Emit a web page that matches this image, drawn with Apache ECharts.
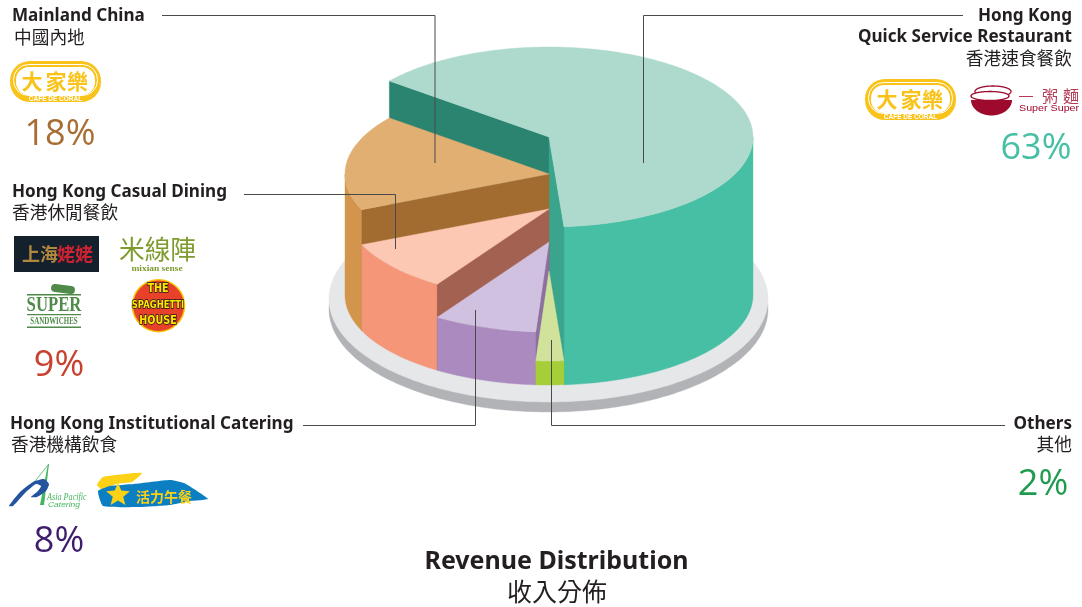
<!DOCTYPE html>
<html>
<head>
<meta charset="utf-8">
<title>Revenue Distribution</title>
<script src="https://cdn.jsdelivr.net/npm/echarts@6/dist/echarts.min.js"></script>
<style>
  html, body { margin: 0; padding: 0; background: #fff; }
  #main { width: 1082px; height: 607px; }
</style>
</head>
<body>
<div id="main"></div>
<script>
// 数据
var namesEn = ['Hong Kong Quick Service Restaurant', 'Mainland China', 'Hong Kong Casual Dining', 'Hong Kong Institutional Catering', 'Others'];
var namesZh = ['香港速食餐飲', '中國內地', '香港休閒餐飲', '香港機構飲食', '其他'];
var shareLabels = ['63%', '18%', '9%', '8%', '2%'];
// slice sizes as measured on the drawn wedges (the printed labels are rounded differently)
var sliceShares = [63.2, 17.2, 9.3, 8.2, 2.2];
// how far each wedge top is stepped down below the highest one
var stepDown = [0, 37, 72, 105, 134];

// pie geometry
var CX = 549, CY = 137, RX = 204, RY = 90, DEPTH = 158;
var FIRST_END = 85.8; // angle where the first slice ends, clockwise from 3 o'clock

var topColors = ['#addacc', '#e2af72', '#fcc8b4', '#cfc1df', '#d1e39b'];
var wallColors = ['#46bfa4', '#d3954b', '#f69679', '#ab8abf', '#a6ce39'];
var cutColors = ['#2a8470', '#a26b2f', '#a36151', '#8b70a0', '#a6ce39'];
var TEAL_CUT_END = '#3ba48d';

function rimPoint(deg, y0) {
    var a = deg * Math.PI / 180;
    return [CX + RX * Math.cos(a), y0 + RY * Math.sin(a)];
}

function arcPoints(from, to, y0) {
    var pts = [];
    var n = Math.max(2, Math.ceil(Math.abs(to - from)));
    for (var i = 0; i <= n; i++) {
        pts.push(rimPoint(from + (to - from) * i / n, y0));
    }
    return pts;
}

function poly(points, fill, z2) {
    return { type: 'polygon', z2: z2 || 0, shape: { points: points }, style: { fill: fill, stroke: fill, lineWidth: 0.4 } };
}

function ellipsePoints(cx, cy, rx, ry) {
    var pts = [];
    for (var i = 0; i < 240; i++) {
        var a = i * Math.PI / 120;
        pts.push([cx + rx * Math.cos(a), cy + ry * Math.sin(a)]);
    }
    return pts;
}

function sliceRange(idx) {
    var total = sliceShares.reduce(function (a, b) { return a + b; }, 0);
    var end = FIRST_END;
    for (var i = 0; i < idx; i++) {
        end -= sliceShares[i] / total * 360;
    }
    // slices after the first run on round the left of the pie
    if (idx > 0) end += 360;
    return [end - sliceShares[idx] / total * 360, end];
}

function cutWall(deg, yTop, yBase, color) {
    var r = rimPoint(deg, yTop), b = rimPoint(deg, yBase);
    return poly([[CX, yTop], r, b, [CX, yBase]], color);
}

function renderSlice(params, api) {
    var idx = params.dataIndex;
    var range = sliceRange(idx);
    var start = range[0], end = range[1];
    var yTop = CY + stepDown[idx];
    var yBase = CY + DEPTH;
    var children = [];

    // outer wall, only the part facing the front
    var from = Math.max(start, 0), to = Math.min(end, 180);
    if (to > from) {
        var upper = arcPoints(from, to, yTop);
        var lower = arcPoints(to, from, yBase);
        children.push(poly(upper.concat(lower), wallColors[idx]));
    }
    // cut faces
    if (idx < 4) children.push(cutWall(start, yTop, yBase, cutColors[idx]));
    if (idx === 0) children.push(cutWall(end, yTop, yBase, TEAL_CUT_END));
    // top face
    var topPts = arcPoints(start, end, yTop);
    topPts.push([CX, yTop]);
    children.push(poly(topPts, topColors[idx]));

    return { type: 'group', children: children };
}

function renderDisc() {
    return {
        type: 'group',
        children: [
            poly(ellipsePoints(548.5, 309, 219.5, 103), '#b1b3b6'),
            poly(ellipsePoints(548.5, 299, 219.5, 103), '#e6e7e8')
        ]
    };
}

// text helper
var FONT_EN = '"Noto Sans", "Open Sans", sans-serif';
var FONT_ZH = '"Noto Sans CJK TC", sans-serif';
var LABEL_EN = 17.1, LABEL_ZH = 17.7;

function txt(str, x, y, size, opt) {
    opt = opt || {};
    var el = {
        type: 'text',
        z: 100,
        x: x,
        y: y,
        rotation: opt.rotation || 0,
        scaleX: opt.scaleX || 1,
        style: {
            text: str,
            x: 0,
            y: 0,
            fill: opt.fill || '#231f20',
            font: (opt.style ? opt.style + ' ' : '') + (opt.weight || 'normal') + ' ' + size + 'px ' + (opt.family || FONT_EN),
            textAlign: opt.align || 'left',
            textVerticalAlign: 'middle',
            align: opt.align || 'left',
            verticalAlign: 'middle'
        }
    };
    if (opt.stroke) {
        el.style.stroke = opt.stroke;
        el.style.lineWidth = opt.lineWidth || 1;
    }
    return el;
}

function shape(type, sh, style, extra) {
    var el = { type: type, z: 100, shape: sh, style: style };
    if (extra) for (var k in extra) el[k] = extra[k];
    return el;
}

function leader(points) {
    return shape('polyline', { points: points }, { fill: 'none', stroke: '#4a4a4a', lineWidth: 1 });
}

// ---- logos, roughly redrawn ----
function cafeLogo(x, y) {
    var yellow = '#f9c31a';
    var opt = { family: FONT_ZH, weight: 'bold', fill: yellow, align: 'center' };
    return [
        shape('rect', { x: x, y: y, width: 91, height: 41, r: 20 }, { fill: yellow }),
        shape('rect', { x: x + 3.5, y: y + 3.5, width: 84, height: 31, r: 15 }, { fill: yellow, stroke: '#fff', lineWidth: 1 }),
        shape('rect', { x: x + 6, y: y + 6, width: 79, height: 28, r: 13 }, { fill: '#fff' }),
        txt('大', x + 22, y + 20.5, 21, opt),
        txt('家', x + 46, y + 20.5, 21, opt),
        txt('樂', x + 67.5, y + 20.5, 21, opt),
        txt('CAFÉ DE CORAL', x + 45.5, y + 38, 6.5, { family: '"Liberation Sans"', fill: '#fff', align: 'center', weight: 'bold' })
    ];
}

function superSuperLogo() {
    var red = '#9d0a2e';
    var bowl = [];
    for (var i = 0; i <= 40; i++) {
        var a = i * Math.PI / 40;
        bowl.push([991.5 + 20.5 * Math.cos(a), 100 + 15.5 * Math.sin(a)]);
    }
    return [
        shape('polygon', { points: ellipsePoints(993, 91.5, 18, 5.5) }, { fill: '#fff', stroke: red, lineWidth: 1.3 }),
        shape('polygon', { points: ellipsePoints(990, 96, 19, 4.5) }, { fill: '#fff', stroke: red, lineWidth: 1.3 }),
        shape('polygon', { points: bowl }, { fill: red }),
        shape('line', { x1: 1019, y1: 96.5, x2: 1033, y2: 96.5 }, { stroke: '#b23a55', lineWidth: 1 }),
        txt('粥', 1050, 96, 16, { family: FONT_ZH, fill: '#b23a55', align: 'center' }),
        txt('麵', 1071, 96, 16, { family: FONT_ZH, fill: '#b23a55', align: 'center' }),
        txt('Super Super', 1019, 109, 8.5, { family: '"Liberation Sans"', fill: '#9d0a2e', scaleX: 1.26 })
    ];
}

function shanghaiLogo() {
    return [
        shape('rect', { x: 14, y: 236, width: 85, height: 36 }, { fill: '#14202b' }),
        txt('上海', 22, 254.5, 18, { family: FONT_ZH, fill: '#b08840', weight: 'bold' }),
        txt('姥姥', 57, 254.5, 18, { family: FONT_ZH, fill: '#cc2232', weight: 'bold' })
    ];
}

function mixianLogo() {
    var g = '#7e9b2e';
    return [
        txt('米線陣', 119, 249, 25.7, { family: '"Noto Sans CJK SC"', fill: g }),
        txt('mixian sense', 157, 268.5, 9, { family: '"Liberation Serif"', fill: g, align: 'center', weight: 'bold', scaleX: 1.05 })
    ];
}

function sandwichLogo() {
    var g = '#4f8a4b';
    return [
        shape('rect', { x: 0, y: 0, width: 24, height: 8, r: 4 }, { fill: g }, { x: 51, y: 285, rotation: -0.12, originX: 12, originY: 4 }),
        shape('rect', { x: 27, y: 294, width: 54, height: 1.5 }, { fill: g }),
        txt('SUPER', 54, 305, 22, { family: '"Liberation Serif"', fill: g, align: 'center', scaleX: 0.76, weight: 'bold' }),
        shape('rect', { x: 27, y: 314, width: 54, height: 1.2 }, { fill: g }),
        txt('SANDWICHES', 54, 321, 10.5, { family: '"Liberation Serif"', fill: g, align: 'center', scaleX: 0.66, weight: 'bold' }),
        shape('rect', { x: 27, y: 326.5, width: 54, height: 1.5 }, { fill: g })
    ];
}

function spaghettiLogo() {
    var y = '#ffe600';
    var font = { family: '"DejaVu Sans"', weight: 'bold', fill: y, align: 'center', stroke: '#1a1a1a', lineWidth: 1.5, scaleX: 0.8 };
    return [
        shape('circle', { cx: 158.5, cy: 305.7, r: 26 }, { fill: '#e8412a', stroke: '#f5c400', lineWidth: 1.5 }),
        txt('THE', 158, 289, 12, font),
        txt('SPAGHETTI', 158, 305, 10.5, font),
        txt('HOUSE', 158, 321, 12, font)
    ];
}

function asiaPacificLogo() {
    var blue = '#24539f', green = '#46b35f';
    return [
        shape('polyline', { points: [[48, 465], [28, 490]] }, { fill: 'none', stroke: green, lineWidth: 0.8 }),
        shape('polygon', { points: [[48, 464], [49, 464], [44, 505], [40, 505]] }, { fill: green }),
        shape('polygon', {
            points: [[9, 506], [20, 492], [33, 482], [44, 479], [49, 484], [46, 491], [37, 497], [31, 497], [38, 491], [41, 486], [36, 484], [26, 492], [13, 506]],
            smooth: 0.2
        }, { fill: blue }),
        txt('Asia Pacific', 47, 497, 9.5, { family: '"Liberation Serif"', fill: green, scaleX: 0.86, style: 'italic' }),
        txt('Catering', 48, 505.5, 6.5, { family: '"Liberation Sans"', fill: green, scaleX: 1.3, style: 'italic' })
    ];
}

function lunchLogo() {
    var star = [];
    for (var i = 0; i < 10; i++) {
        var r = i % 2 ? 5.5 : 12.5;
        var a = -Math.PI / 2 + i * Math.PI / 5;
        star.push([118 + r * Math.cos(a), 495 + r * Math.sin(a)]);
    }
    return [
        shape('polygon', { points: [[97, 485], [103, 477], [125, 474], [142, 473], [132, 482], [116, 484], [103, 490]], smooth: 0.15 }, { fill: '#fcd116' }),
        shape('polygon', {
            points: [[98, 491], [110, 486], [134, 484], [170, 480], [184, 483], [197, 491], [208, 499], [190, 501], [170, 505], [140, 507], [103, 506]],
            smooth: 0.15
        }, { fill: '#0b7fc1' }),
        shape('polygon', { points: star }, { fill: '#fcd116' }),
        txt('活力午餐', 136, 497, 14, { family: FONT_ZH, weight: 'bold', fill: '#fcd116' })
    ];
}

// ---- labels ----
var PCT_FAMILY = '"Open Sans", "Noto Sans", sans-serif';

function pct(i, x, y, color) {
    return txt(shareLabels[i], x, y, 36, { family: PCT_FAMILY, weight: 500, fill: color, align: 'center' });
}

var elements = [].concat(
    [
        leader([[162, 15.5], [435, 15.5], [435, 163]]),
        leader([[244, 194.5], [395.5, 194.5], [395.5, 249]]),
        leader([[303, 425.5], [475.5, 425.5], [475.5, 310]]),
        leader([[1005, 425.5], [551.5, 425.5], [551.5, 340]]),
        leader([[963, 15.5], [643.5, 15.5], [643.5, 163]])
    ],
    // 左上
    [
        txt(namesEn[1], 12, 16.5, LABEL_EN, { weight: 'bold' }),
        txt(namesZh[1], 14, 37, LABEL_ZH, { family: FONT_ZH }),
        pct(1, 60, 135, '#a86d32')
    ],
    cafeLogo(10, 61),
    // 左中
    [
        txt(namesEn[2], 12, 192, LABEL_EN, { weight: 'bold' }),
        txt(namesZh[2], 12, 212.5, LABEL_ZH, { family: FONT_ZH }),
        pct(2, 59, 366, '#c8402e')
    ],
    shanghaiLogo(), mixianLogo(), sandwichLogo(), spaghettiLogo(),
    // 左下
    [
        txt(namesEn[3], 10, 424, LABEL_EN, { weight: 'bold' }),
        txt(namesZh[3], 11, 444.5, LABEL_ZH, { family: FONT_ZH }),
        pct(3, 59, 542, '#3f1d6e')
    ],
    asiaPacificLogo(), lunchLogo(),
    // 右上
    [
        txt('Hong Kong', 1072, 16, LABEL_EN, { weight: 'bold', align: 'right' }),
        txt('Quick Service Restaurant', 1072, 37.5, LABEL_EN, { weight: 'bold', align: 'right' }),
        txt(namesZh[0], 1072, 58, LABEL_ZH, { family: FONT_ZH, align: 'right' }),
        pct(0, 1036, 149, '#46bfa4')
    ],
    cafeLogo(865, 79), superSuperLogo(),
    // 右下
    [
        txt(namesEn[4], 1072, 424, LABEL_EN, { weight: 'bold', align: 'right' }),
        txt(namesZh[4], 1072, 444.5, LABEL_ZH, { family: FONT_ZH, align: 'right' }),
        pct(4, 1043, 485, '#1e9b4e')
    ],
    // 标题
    [
        txt('Revenue Distribution', 556.5, 561.5, 25, { weight: 'bold', align: 'center' }),
        txt('收入分佈', 557, 591, 25, { family: FONT_ZH, align: 'center' })
    ]
);

var myChart = echarts.init(document.getElementById('main'), null, { renderer: 'canvas' });

var option = {
    animation: false,
    backgroundColor: '#fff',
    series: [
        {
            type: 'custom',
            coordinateSystem: 'none',
            silent: true,
            z: 1,
            data: [[1]],
            renderItem: renderDisc
        },
        {
            type: 'custom',
            coordinateSystem: 'none',
            silent: true,
            z: 2,
            data: sliceShares.map(function (v, i) { return { name: namesEn[i], value: [v] }; }),
            renderItem: renderSlice
        }
    ],
    graphic: { elements: elements }
};

myChart.setOption(option, true);
</script>
</body>
</html>
